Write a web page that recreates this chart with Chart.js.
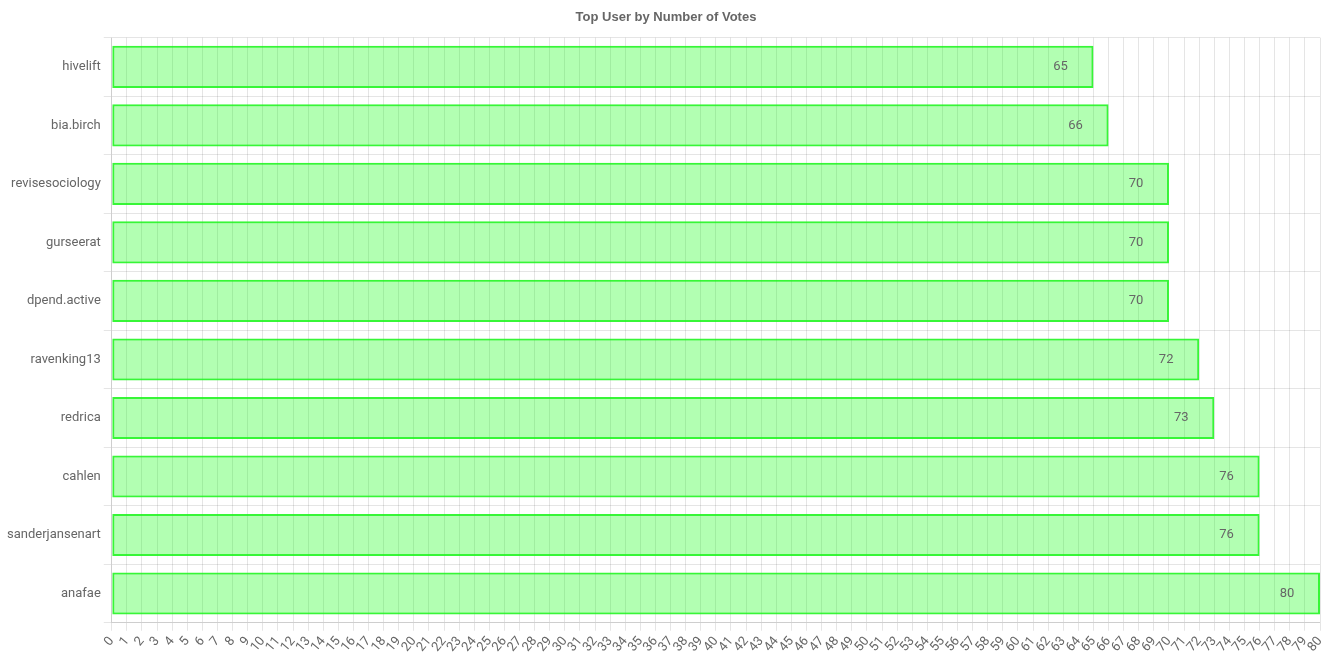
<!DOCTYPE html>
<html><head><meta charset="utf-8">
<script src="https://cdn.jsdelivr.net/npm/chart.js@4/dist/chart.umd.min.js"></script>
<style>html,body{margin:0;padding:0;background:#fff}#wrap{width:1328px;height:664px}</style>
</head><body><div id="wrap"><canvas id="c"></canvas></div>
<script>
const categories = ["hivelift","bia.birch","revisesociology","gurseerat","dpend.active","ravenking13","redrica","cahlen","sanderjansenart","anafae"];
const votes = [65,66,70,70,70,72,73,76,76,80];
const titleText = "Top User by Number of Votes";

const labelPlugin = {
  id: 'valueLabels',
  afterDatasetsDraw(chart) {
    const ctx = chart.ctx;
    const meta = chart.getDatasetMeta(0);
    ctx.save();
    ctx.font = '13px Roboto, "Liberation Sans", Arial, sans-serif';
    ctx.fillStyle = '#666';
    ctx.textAlign = 'center';
    ctx.textBaseline = 'middle';
    meta.data.forEach((bar, i) => {
      ctx.fillText(String(votes[i]), bar.x - 33, bar.y);
    });
    ctx.restore();
  }
};

Chart.defaults.font.family = 'Roboto, "Liberation Sans", Arial, sans-serif';
Chart.defaults.color = '#666';
new Chart(document.getElementById('c'), {
  type: 'bar',
  data: { labels: categories, datasets: [{
    data: votes,
    backgroundColor: 'rgba(0,255,0,0.3)',
    borderColor: 'rgba(20,245,20,0.85)',
    borderWidth: 2,
    borderSkipped: false
  }]},
  options: {
    indexAxis: 'y',
    responsive: true,
    maintainAspectRatio: false,
    animation: false,
    layout: { padding: { left: 4, right: 0, bottom: 6 } },
    plugins: {
      legend: { display: false },
      tooltip: { enabled: false },
      title: { display: true, text: titleText, font: { family: '"Liberation Sans", Arial, sans-serif', size: 13, weight: 'bold' }, color: '#666', padding: { top: 10, bottom: 12 } }
    },
    scales: {
      x: { min: 0, max: 80,
           afterFit(scale) { scale.paddingRight = 8; },
           ticks: { stepSize: 1, autoSkip: false, maxRotation: 50, minRotation: 50, font: { size: 13 } }, grid: { color: 'rgba(0,0,0,0.1)' } },
      y: { ticks: { font: { size: 13 } }, grid: { color: 'rgba(0,0,0,0.1)', offset: true } }
    }
  },
  plugins: [labelPlugin]
});
</script></body></html>
